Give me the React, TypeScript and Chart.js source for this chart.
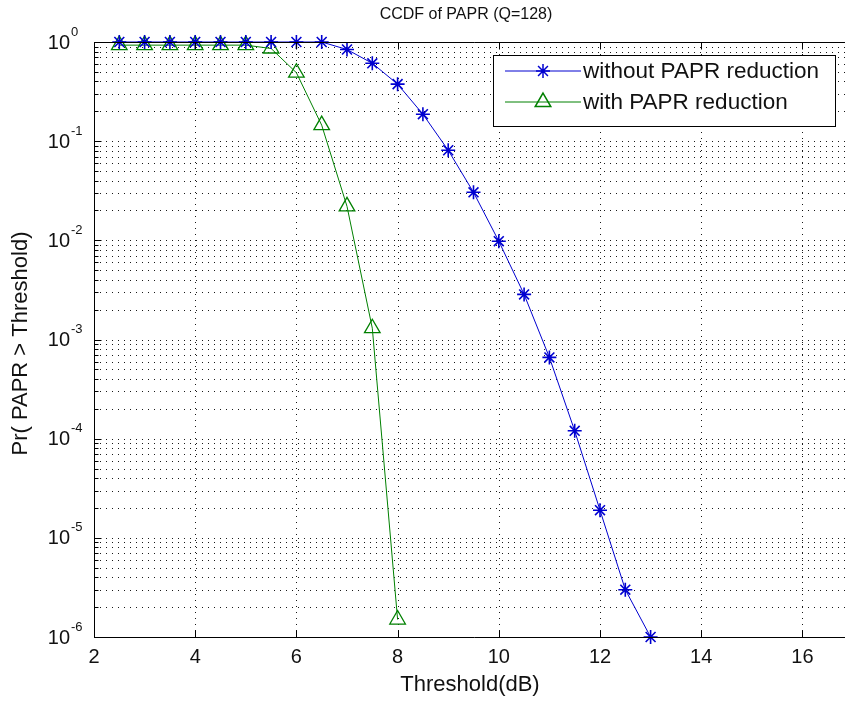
import React, { useEffect, useRef } from 'react';
import { Chart, registerables } from 'chart.js';

Chart.register(...registerables);

const thresholdsWithout = [2.5, 3, 3.5, 4, 4.5, 5, 5.5, 6, 6.5, 7, 7.5, 8, 8.5, 9, 9.5, 10, 10.5, 11, 11.5, 12, 12.5, 13];
const ccdfWithout = [1, 1, 1, 1, 1, 1, 1, 1, 1, 0.84, 0.61, 0.376, 0.187, 0.081, 0.0305, 0.0098, 0.00285, 0.00066, 0.00012, 1.9e-5, 3.0e-6, 1.0e-6];
const thresholdsWith = [2.5, 3, 3.5, 4, 4.5, 5, 5.5, 6, 6.5, 7, 7.5, 8];
const ccdfWith = [0.93, 0.93, 0.93, 0.93, 0.93, 0.93, 0.86, 0.49, 0.145, 0.022, 0.0013, 1.5e-6];

const xTicks = [2, 4, 6, 8, 10, 12, 14, 16];
const yDecades = [-6, -5, -4, -3, -2, -1, 0];
const yMinorSteps = [2, 3, 4, 5, 6, 7, 8, 9];

const seriesLabels = ['without PAPR reduction', 'with PAPR reduction'];
const titleText = 'CCDF of PAPR (Q=128)';
const xTitle = 'Threshold(dB)';
const yTitle = 'Pr( PAPR > Threshold)';

const BLUE = '#0000d0';
const GREEN = '#008000';
const FONT = '"Liberation Sans", Arial, sans-serif';

const yGridValues: { v: number; major: boolean }[] = [];
yDecades.forEach((d) => {
  yGridValues.push({ v: Math.pow(10, d), major: true });
  if (d < 0) yMinorSteps.forEach((s) => yGridValues.push({ v: s * Math.pow(10, d), major: false }));
});

function drawStar(ctx: CanvasRenderingContext2D, x: number, y: number, r: number) {
  ctx.beginPath();
  ctx.moveTo(x - r, y); ctx.lineTo(x + r, y);
  ctx.moveTo(x, y - r); ctx.lineTo(x, y + r);
  const d = r * Math.SQRT1_2;
  ctx.moveTo(x - d, y - d); ctx.lineTo(x + d, y + d);
  ctx.moveTo(x - d, y + d); ctx.lineTo(x + d, y - d);
  ctx.stroke();
}

function drawTriangle(ctx: CanvasRenderingContext2D, x: number, y: number, r: number) {
  ctx.beginPath();
  for (let i = 0; i < 3; i++) {
    const a = (i * 2 * Math.PI) / 3;
    const px = x + Math.sin(a) * r;
    const py = y - Math.cos(a) * r;
    if (i === 0) ctx.moveTo(px, py); else ctx.lineTo(px, py);
  }
  ctx.closePath();
  ctx.stroke();
}

const matlabPlugin = {
  id: 'matlabLook',
  beforeDatasetsDraw(chart: any) {
    const { ctx, chartArea: a, scales } = chart;
    const x = scales.x, y = scales.y;
    ctx.save();
    ctx.strokeStyle = 'rgba(0,0,0,0.9)';
    ctx.lineWidth = 1;
    ctx.setLineDash([1, 5]);
    yGridValues.forEach(({ v }) => {
      const py = Math.round(y.getPixelForValue(v)) + 0.5;
      ctx.beginPath(); ctx.moveTo(a.left, py); ctx.lineTo(a.right, py); ctx.stroke();
    });
    xTicks.forEach((v) => {
      const px = Math.round(x.getPixelForValue(v)) + 0.5;
      ctx.beginPath(); ctx.moveTo(px, a.top); ctx.lineTo(px, a.bottom); ctx.stroke();
    });
    ctx.restore();
  },
  afterDraw(chart: any) {
    const { ctx, chartArea: a, scales } = chart;
    const x = scales.x, y = scales.y;
    ctx.save();
    ctx.setLineDash([]);
    ctx.strokeStyle = '#000';
    ctx.lineWidth = 1;
    const top = Math.round(a.top) + 0.5, bottom = Math.round(a.bottom) + 0.5, left = Math.round(a.left) + 0.5;
    ctx.beginPath();
    ctx.moveTo(left, top); ctx.lineTo(a.right + 2, top);
    ctx.moveTo(left, bottom); ctx.lineTo(a.right + 2, bottom);
    ctx.moveTo(left, top); ctx.lineTo(left, bottom);
    ctx.stroke();
    // x ticks
    xTicks.forEach((v) => {
      const px = Math.round(x.getPixelForValue(v)) + 0.5;
      ctx.beginPath();
      ctx.moveTo(px, bottom); ctx.lineTo(px, bottom - 7);
      ctx.moveTo(px, top); ctx.lineTo(px, top + 7);
      ctx.stroke();
    });
    // y ticks
    yGridValues.forEach(({ v, major }) => {
      const py = Math.round(y.getPixelForValue(v)) + 0.5;
      ctx.beginPath(); ctx.moveTo(left, py); ctx.lineTo(left + (major ? 7 : 4), py); ctx.stroke();
    });
    // x tick labels
    ctx.fillStyle = '#111';
    ctx.font = `20px ${FONT}`;
    ctx.textAlign = 'center';
    ctx.textBaseline = 'middle';
    xTicks.forEach((v) => {
      ctx.fillText(String(v), x.getPixelForValue(v), a.bottom + 20);
    });
    // y tick labels with superscript
    yDecades.forEach((d) => {
      const py = y.getPixelForValue(Math.pow(10, d));
      ctx.font = `20px ${FONT}`;
      ctx.textAlign = 'right';
      ctx.textBaseline = 'middle';
      ctx.fillText('10', 70, py + 1);
      ctx.font = `13px ${FONT}`;
      ctx.textAlign = 'left';
      ctx.fillText(String(d), 71, py - 10);
    });
    // axis titles
    ctx.font = `22px ${FONT}`;
    ctx.textAlign = 'center';
    ctx.textBaseline = 'middle';
    ctx.fillText(xTitle, 470, a.bottom + 48);
    ctx.save();
    ctx.translate(21, (a.top + a.bottom) / 2 + 4);
    ctx.rotate(-Math.PI / 2);
    ctx.fillText(yTitle, 0, 0);
    ctx.restore();
    // title
    ctx.font = `16px ${FONT}`;
    ctx.fillText(titleText, 466, 15);
    // legend
    const lx = 493, ly = 55, lw = 342, lh = 71;
    ctx.fillStyle = '#fff';
    ctx.fillRect(lx, ly, lw, lh);
    ctx.strokeStyle = '#000';
    ctx.lineWidth = 1;
    ctx.strokeRect(lx + 0.5, ly + 0.5, lw, lh);
    const rows = [ly + 16, ly + 47];
    const colors = [BLUE, GREEN];
    rows.forEach((ry, i) => {
      ctx.strokeStyle = colors[i];
      ctx.lineWidth = 1;
      ctx.beginPath(); ctx.moveTo(505, ry); ctx.lineTo(581, ry); ctx.stroke();
      ctx.lineWidth = 1.5;
      if (i === 0) drawStar(ctx, 543, ry, 7); else drawTriangle(ctx, 543, ry, 9);
      ctx.fillStyle = '#111';
      ctx.font = `22.5px ${FONT}`;
      ctx.textAlign = 'left';
      ctx.textBaseline = 'middle';
      ctx.fillText(seriesLabels[i], 583, ry + 1);
    });
    ctx.restore();
  },
};

export default function App() {
  const canvasRef = useRef<HTMLCanvasElement | null>(null);
  useEffect(() => {
    if (!canvasRef.current) return;
    const chart = new Chart(canvasRef.current, {
      type: 'line',
      data: {
        datasets: [
          {
            label: seriesLabels[0],
            data: thresholdsWithout.map((t, i) => ({ x: t, y: ccdfWithout[i] })),
            borderColor: BLUE,
            borderWidth: 1,
            pointStyle: 'star',
            pointRadius: 7,
            pointBorderWidth: 1.6,
            pointBorderColor: BLUE,
            pointBackgroundColor: 'transparent',
            tension: 0,
            clip: false,
          } as any,
          {
            label: seriesLabels[1],
            data: thresholdsWith.map((t, i) => ({ x: t, y: ccdfWith[i] })),
            borderColor: GREEN,
            borderWidth: 1,
            pointStyle: 'triangle',
            pointRadius: 9,
            pointBorderWidth: 1.3,
            pointBorderColor: GREEN,
            pointBackgroundColor: 'transparent',
            tension: 0,
            clip: false,
          } as any,
        ],
      },
      options: {
        responsive: false,
        animation: false,
        devicePixelRatio: 1,
        events: [],
        layout: { padding: { left: 0, top: 42, right: 17, bottom: 0 }, autoPadding: false } as any,
        plugins: { legend: { display: false }, title: { display: false }, tooltip: { enabled: false } },
        scales: {
          x: {
            type: 'linear', min: 2, max: 17,
            grid: { display: false }, border: { display: false }, ticks: { display: false },
            afterFit: (s: any) => { s.height = 64; },
          },
          y: {
            type: 'logarithmic', min: 1e-6, max: 1,
            grid: { display: false }, border: { display: false }, ticks: { display: false },
            afterFit: (s: any) => { s.width = 94; },
          },
        },
      } as any,
      plugins: [matlabPlugin],
    });
    return () => chart.destroy();
  }, []);
  return (
    <div style={{ position: 'absolute', left: 0, top: 0, width: 845, height: 701, overflow: 'hidden', background: '#fff' }}>
      <canvas ref={canvasRef} width={870} height={701} style={{ display: 'block' }} />
    </div>
  );
}
